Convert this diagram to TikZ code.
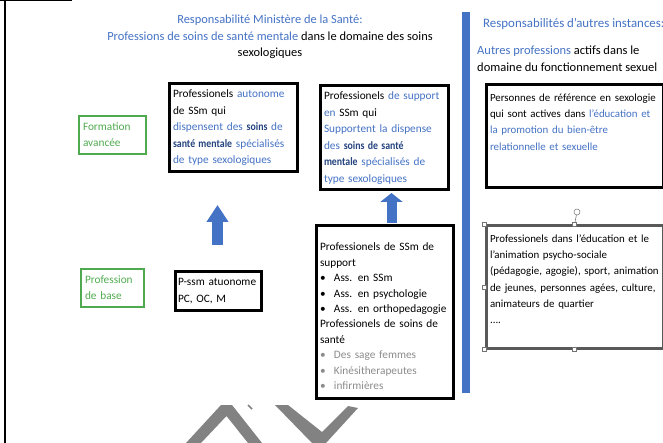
\documentclass[tikz,border=0pt]{standalone}
\usepackage{fontspec}
\setmainfont{Carlito}
\usepackage{xcolor}
\usepackage{tikz}
\usetikzlibrary{arrows.meta, positioning}

\definecolor{officeblue}{HTML}{4472C4}
\definecolor{darkblue}{HTML}{24437F}
\definecolor{levelgreen}{HTML}{4FAA4F}
\definecolor{softgray}{HTML}{8C8C8C}
\definecolor{markgray}{HTML}{828282}

\newcommand{\txtblue}[1]{\textcolor{officeblue}{#1}}
\newcommand{\txtbold}[1]{\textcolor{darkblue}{\scalebox{0.87}[1]{\textbf{#1}}}}
\newcommand{\itembullet}{\makebox[14pt][l]{\textbullet}}

\tikzset{
    txt/.style={font=\fontsize{12.4}{16.5}\selectfont, inner sep=0pt},
    pbox/.style={draw, line width=3pt, fill=white, align=left, anchor=north west,
        inner xsep=4pt, inner ysep=3pt, font=\fontsize{11.3}{16.5}\selectfont},
    otherbox/.style={pbox, text width=169pt, text height=12.5pt, inner ysep=4pt,
        font=\fontsize{10.9}{16.2}\selectfont},
    levelbox/.style={draw=levelgreen, text=levelgreen, line width=2pt, align=left,
        anchor=north west, inner xsep=4pt, font=\fontsize{11.3}{16}\selectfont},
    uparrow/.style={officeblue, line width=11pt},
    handle/.style={draw=black!55, fill=white, line width=0.5pt, minimum size=4pt, inner sep=0pt},
}

\begin{document}
\begin{tikzpicture}[x=1pt, y=-1pt]
    \useasboundingbox (0,0) rectangle (663,443);

    % Page frame
    \draw[line width=1.5pt] (0,0.75) -- (72,0.75);
    \draw[line width=2pt] (5,0) -- (5,443);

    % Title
    \node[txt, align=center] (title) at (270,37) {\txtblue{Responsabilité Ministère de la Santé:}\\
        \txtblue{Professions de soins de santé mentale} dans le domaine des soins\\
        sexologiques};

    % Level labels
    \node[levelbox, text width=59pt, minimum height=38pt] (advanced) at (78,115) {Formation\\avancée};
    \node[levelbox, text width=55pt, minimum height=38pt] (basic) at (80,268) {Profession\\de base};

    % Arrow between the levels
    \coordinate (footA) at (217.5,245);
    \coordinate (tipA) at (217.5,205);
    \draw[uparrow, -{Triangle[length=17pt, width=21pt]}] (footA) -- (tipA);

    % Mental health care boxes
    \node[pbox, text width=120pt, minimum height=88pt] (autonomous) at (167.5,82.5) {%
        Professionels \txtblue{autonome}\\
        de SSm qui\\
        \txtblue{dispensent des} \txtbold{soins} \txtblue{de}\\
        \mbox{\txtbold{santé mentale} \txtblue{spécialisés}}\\
        \txtblue{de type sexologiques}};
    \node[pbox, text width=120pt, minimum height=104pt] (supporting) at (318.5,84.5) {%
        Professionels \txtblue{de support}\\
        \txtblue{en} SSm qui\\
        \txtblue{Supportent la dispense}\\
        \txtblue{des} \txtbold{soins de santé}\\
        \mbox{\txtbold{mentale} \txtblue{spécialisés de}}\\
        \txtblue{type sexologiques}};
    \node[pbox, text width=80pt, minimum height=38pt, inner xsep=3pt] (pssm) at (173.5,270.5) {%
        P-ssm atuonome\\PC, OC, M};
    \node[pbox, text width=129pt, text height=21pt, text depth=143pt, inner ysep=4pt,
        font=\fontsize{11.3}{15.4}\selectfont] (supportlist) at (314.5,224.5) {%
        Professionels de SSm de\\
        support\\
        \itembullet Ass. en SSm\\
        \itembullet Ass. en psychologie\\
        \mbox{\itembullet Ass. en orthopedagogie}\\
        Professionels de soins de\\
        santé\\
        \textcolor{softgray}{\itembullet Des sage femmes}\\
        \textcolor{softgray}{\itembullet Kinésitherapeutes}\\
        \textcolor{softgray}{\itembullet infirmières}};

    % Arrow from support list to supporting box
    \coordinate (columnB) at (391.5,0);
    \draw[uparrow, line width=10pt, -{Triangle[length=9pt, width=22pt]}, shorten <=1.5pt, shorten >=1.5pt]
        (supportlist.north -| columnB) -- (supporting.south -| columnB);

    % Other instances
    \fill[officeblue] (462,12) rectangle (470,393);
    \node[txt, text=officeblue, anchor=west, font=\fontsize{12.9}{16}\selectfont] (otherhead) at (483,24) {Responsabilités d’autres instances:};
    \node[txt, align=left, anchor=west, font=\fontsize{12.5}{17}\selectfont] (othersub) at (477,59) {%
        \txtblue{Autres professions} actifs dans le\\domaine du fonctionnement sexuel};

    \node[otherbox, text depth=82.5pt] (referents) at (484.5,83.5) {%
        \mbox{Personnes de référence en sexologie}\\
        \mbox{qui sont actives dans \txtblue{l’éducation et}}\\
        \txtblue{la promotion du bien-être}\\
        \txtblue{relationnelle et sexuelle}};
    \node[otherbox, draw=black!65, text depth=101.5pt] (animators) at (484.5,224.5) {%
        \mbox{Professionels dans l’éducation et le}\\
        l’animation psycho-sociale\\
        \mbox{(pédagogie, agogie), sport, animation}\\
        \mbox{de jeunes, personnes agées, culture,}\\
        animateurs de quartier\\
        ....};

    % Selection handles
    \node[circle, draw=black!55, fill=white, line width=0.5pt, inner sep=0pt, minimum size=6pt] (rotator) at (577,212) {};
    \draw[black!55, line width=0.6pt] (rotator) -- (animators.north);
    \foreach \h/\n in {north west/a, north/b, west/c, south west/d, south/e}
        \node[handle] (grip\n) at (animators.\h) {};

    % Faded watermark strokes
    \fill[markgray] (186,443) -- (221,405) -- (232,405) -- (262,443) -- (248,443) -- (226.5,416) -- (201,443) -- cycle;
    \fill[markgray] (275,405) -- (288,405) -- (322,432) -- (348,406) -- (358,408) -- (326,443) -- (312,443) -- cycle;
    \draw[markgray, line width=1.5pt] (248,405) -- (252,409);
\end{tikzpicture}
\end{document}
